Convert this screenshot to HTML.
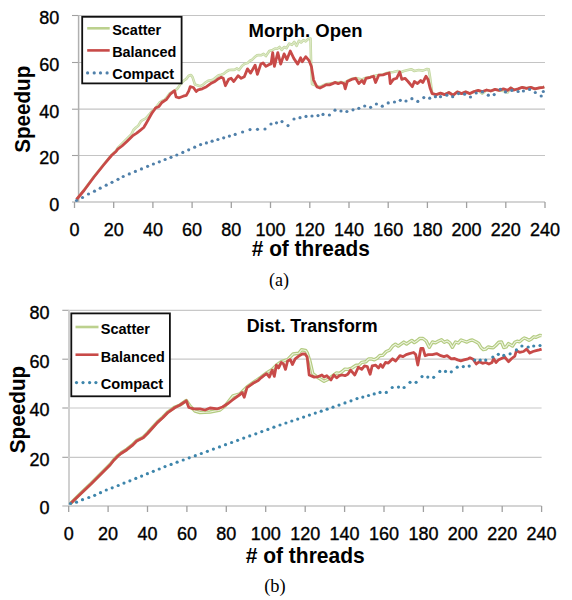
<!DOCTYPE html>
<html><head><meta charset="utf-8"><style>
html,body{margin:0;padding:0;background:#fff;}
svg{display:block;}
text{font-family:"Liberation Sans",sans-serif;fill:#000;}
.n{font-size:18px;stroke:#000;stroke-width:0.35px;}
.lg{font-size:15.3px;font-weight:bold;}
.tt{font-size:18px;font-weight:bold;}
.ax{font-size:21.5px;font-weight:bold;}
.cap{font-family:"Liberation Serif",serif;font-size:18px;}
</style></head><body>
<svg width="572" height="600" viewBox="0 0 572 600">
<rect width="572" height="600" fill="#fff"/>
<line x1="78.6" y1="155.5" x2="545" y2="155.5" stroke="#c4c4c4" stroke-width="1.2"/>
<line x1="72" y1="155.5" x2="78.6" y2="155.5" stroke="#a0a0a0" stroke-width="1.1"/>
<line x1="78.6" y1="109.2" x2="545" y2="109.2" stroke="#c4c4c4" stroke-width="1.2"/>
<line x1="72" y1="109.2" x2="78.6" y2="109.2" stroke="#a0a0a0" stroke-width="1.1"/>
<line x1="78.6" y1="62.5" x2="545" y2="62.5" stroke="#c4c4c4" stroke-width="1.2"/>
<line x1="72" y1="62.5" x2="78.6" y2="62.5" stroke="#a0a0a0" stroke-width="1.1"/>
<line x1="78.6" y1="15.5" x2="545" y2="15.5" stroke="#c4c4c4" stroke-width="1.2"/>
<line x1="72" y1="15.5" x2="78.6" y2="15.5" stroke="#a0a0a0" stroke-width="1.1"/>
<line x1="72" y1="202.0" x2="545" y2="202.0" stroke="#d4d4d4" stroke-width="1.8"/>
<line x1="78.6" y1="15.5" x2="78.6" y2="202.0" stroke="#b0b0b0" stroke-width="1.5"/>
<line x1="74.5" y1="202.0" x2="74.5" y2="208.0" stroke="#a0a0a0" stroke-width="1.3"/>
<line x1="113.7" y1="202.0" x2="113.7" y2="208.0" stroke="#a0a0a0" stroke-width="1.3"/>
<line x1="152.9" y1="202.0" x2="152.9" y2="208.0" stroke="#a0a0a0" stroke-width="1.3"/>
<line x1="192.1" y1="202.0" x2="192.1" y2="208.0" stroke="#a0a0a0" stroke-width="1.3"/>
<line x1="231.3" y1="202.0" x2="231.3" y2="208.0" stroke="#a0a0a0" stroke-width="1.3"/>
<line x1="270.5" y1="202.0" x2="270.5" y2="208.0" stroke="#a0a0a0" stroke-width="1.3"/>
<line x1="309.8" y1="202.0" x2="309.8" y2="208.0" stroke="#a0a0a0" stroke-width="1.3"/>
<line x1="349.0" y1="202.0" x2="349.0" y2="208.0" stroke="#a0a0a0" stroke-width="1.3"/>
<line x1="388.2" y1="202.0" x2="388.2" y2="208.0" stroke="#a0a0a0" stroke-width="1.3"/>
<line x1="427.4" y1="202.0" x2="427.4" y2="208.0" stroke="#a0a0a0" stroke-width="1.3"/>
<line x1="466.6" y1="202.0" x2="466.6" y2="208.0" stroke="#a0a0a0" stroke-width="1.3"/>
<line x1="505.8" y1="202.0" x2="505.8" y2="208.0" stroke="#a0a0a0" stroke-width="1.3"/>
<line x1="545.0" y1="202.0" x2="545.0" y2="208.0" stroke="#a0a0a0" stroke-width="1.3"/>
<text x="59.3" y="210.6" text-anchor="end" class="n">0</text>
<text x="59.3" y="164.1" text-anchor="end" class="n">20</text>
<text x="59.3" y="117.8" text-anchor="end" class="n">40</text>
<text x="59.3" y="71.1" text-anchor="end" class="n">60</text>
<text x="59.3" y="24.1" text-anchor="end" class="n">80</text>
<text x="74.5" y="236" text-anchor="middle" class="n">0</text>
<text x="113.7" y="236" text-anchor="middle" class="n">20</text>
<text x="152.9" y="236" text-anchor="middle" class="n">40</text>
<text x="192.1" y="236" text-anchor="middle" class="n">60</text>
<text x="231.3" y="236" text-anchor="middle" class="n">80</text>
<text x="270.5" y="236" text-anchor="middle" class="n">100</text>
<text x="309.8" y="236" text-anchor="middle" class="n">120</text>
<text x="349.0" y="236" text-anchor="middle" class="n">140</text>
<text x="388.2" y="236" text-anchor="middle" class="n">160</text>
<text x="427.4" y="236" text-anchor="middle" class="n">180</text>
<text x="466.6" y="236" text-anchor="middle" class="n">200</text>
<text x="505.8" y="236" text-anchor="middle" class="n">220</text>
<text x="545.0" y="236" text-anchor="middle" class="n">240</text>
<polyline points="76.5,199.5 84.0,190.0 94.0,176.5 104.0,164.0 111.5,155.0 116.0,151.0 117.8,147.8 129.0,136.6 131.3,134.4 133.7,129.7 136.0,127.5 138.3,125.7 140.7,121.6 143.0,119.8 145.8,118.4 150.0,113.5 152.0,111.0 154.5,109.3 157.0,106.0 159.5,102.7 162.0,101.0 164.5,99.8 167.0,97.0 169.5,93.7 172.0,92.0 174.8,91.0 177.7,88.3 180.8,83.6 184.0,80.5 186.3,78.9 188.7,75.7 191.0,75.0 192.6,77.3 195.0,84.6 200.2,86.2 202.8,85.0 205.5,82.5 208.1,80.8 210.7,80.4 213.3,79.5 216.0,77.3 218.6,75.3 221.2,74.7 223.8,73.8 226.5,71.5 229.1,70.0 231.7,69.9 234.3,69.9 237.0,68.4 239.0,70.0 242.2,65.7 244.8,63.7 247.5,63.1 250.0,60.7 252.2,59.7 254.5,57.3 256.8,55.4 259.1,55.0 261.4,55.2 263.6,53.9 265.9,56.0 269.3,51.0 272.7,49.9 275.0,48.6 277.3,48.8 279.5,47.0 281.8,49.9 284.1,47.0 286.4,48.2 289.2,43.6 292.0,44.8 294.3,41.9 296.6,45.9 298.9,40.8 301.1,42.5 303.4,40.2 305.7,41.4 308.0,39.1 309.7,38.5 310.5,38.5 311.0,60.0 312.0,84.0 317.0,86.0 320.0,87.0 324.0,85.0 326.3,84.0 332.6,83.0 341.0,82.0 344.0,83.0 347.3,81.0 351.5,79.0 355.7,78.0 362.0,79.5 366.0,77.8 370.3,77.0 373.5,76.0 378.7,75.0 383.0,74.5 387.0,73.0 389.2,72.5 393.4,72.0 397.6,71.0 400.8,72.3 404.0,71.0 408.0,70.0 411.2,69.2 414.4,71.0 418.6,70.0 422.8,70.6 427.0,69.0 428.7,69.3 430.0,77.0 432.0,92.0 432.1,93.6 436.3,94.6 440.5,93.1 444.7,94.6 448.9,92.5 453.1,95.2 457.3,91.9 461.5,93.6 465.7,91.9 469.9,93.6 474.1,91.5 478.2,90.4 482.4,93.6 486.6,90.0 490.8,91.0 495.0,89.4 499.2,90.4 503.4,91.0 507.6,92.5 510.8,87.9 513.9,90.0 518.1,88.9 522.3,87.3 526.5,88.3 530.7,87.3 534.9,88.9 539.1,87.9 543.3,87.3 544.3,86.9" fill="none" stroke="#c2d69e" stroke-width="2.6" stroke-linejoin="round"/>
<polyline points="76.5,199.5 84.0,190.0 94.0,176.5 104.0,164.0 111.5,155.0 116.0,151.0 117.8,147.8 129.0,136.6 131.3,134.4 133.7,129.7 136.0,127.5 138.3,125.7 140.7,121.6 143.0,119.8 145.8,118.4 150.0,113.5 152.0,111.0 154.5,109.3 157.0,106.0 159.5,102.7 162.0,101.0 164.5,99.8 167.0,97.0 169.5,93.7 172.0,92.0 174.8,91.0 177.7,88.3 180.8,83.6 184.0,80.5 186.3,78.9 188.7,75.7 191.0,75.0 192.6,77.3 195.0,84.6 200.2,86.2 202.8,85.0 205.5,82.5 208.1,80.8 210.7,80.4 213.3,79.5 216.0,77.3 218.6,75.3 221.2,74.7 223.8,73.8 226.5,71.5 229.1,70.0 231.7,69.9 234.3,69.9 237.0,68.4 239.0,70.0 242.2,65.7 244.8,63.7 247.5,63.1 250.0,60.7 252.2,59.7 254.5,57.3 256.8,55.4 259.1,55.0 261.4,55.2 263.6,53.9 265.9,56.0 269.3,51.0 272.7,49.9 275.0,48.6 277.3,48.8 279.5,47.0 281.8,49.9 284.1,47.0 286.4,48.2 289.2,43.6 292.0,44.8 294.3,41.9 296.6,45.9 298.9,40.8 301.1,42.5 303.4,40.2 305.7,41.4 308.0,39.1 309.7,38.5 310.5,38.5 311.0,60.0 312.0,84.0 317.0,86.0 320.0,87.0 324.0,85.0 326.3,84.0 332.6,83.0 341.0,82.0 344.0,83.0 347.3,81.0 351.5,79.0 355.7,78.0 362.0,79.5 366.0,77.8 370.3,77.0 373.5,76.0 378.7,75.0 383.0,74.5 387.0,73.0 389.2,72.5 393.4,72.0 397.6,71.0 400.8,72.3 404.0,71.0 408.0,70.0 411.2,69.2 414.4,71.0 418.6,70.0 422.8,70.6 427.0,69.0 428.7,69.3 430.0,77.0 432.0,92.0 432.1,93.6 436.3,94.6 440.5,93.1 444.7,94.6 448.9,92.5 453.1,95.2 457.3,91.9 461.5,93.6 465.7,91.9 469.9,93.6 474.1,91.5 478.2,90.4 482.4,93.6 486.6,90.0 490.8,91.0 495.0,89.4 499.2,90.4 503.4,91.0 507.6,92.5 510.8,87.9 513.9,90.0 518.1,88.9 522.3,87.3 526.5,88.3 530.7,87.3 534.9,88.9 539.1,87.9 543.3,87.3 544.3,86.9" fill="none" stroke="#dde9c6" stroke-width="1.1" stroke-linejoin="round"/>
<polyline points="76.5,199.5 84.0,190.5 94.0,177.0 104.0,164.5 111.5,155.5 116.0,151.5 117.8,149.2 122.0,146.0 126.9,141.5 132.5,135.9 136.7,133.1 140.2,130.3 143.7,127.5 145.8,124.0 148.6,119.1 152.1,112.8 154.2,110.0 155.5,108.1 159.0,106.4 161.9,102.5 166.6,99.3 170.6,93.8 174.5,90.7 176.1,97.0 179.2,97.8 183.2,96.2 186.3,95.4 188.7,91.1 190.2,86.7 193.4,87.5 196.2,91.5 198.1,89.9 202.3,88.8 206.5,86.7 210.7,83.6 214.9,81.5 218.1,78.9 221.2,77.3 223.3,78.3 225.4,85.7 228.6,79.4 231.2,78.3 233.8,81.5 238.0,75.7 241.2,78.3 244.3,76.8 247.5,68.9 250.6,73.1 255.1,65.2 257.4,74.3 260.8,64.1 263.1,63.0 265.9,66.4 268.8,64.7 271.0,64.0 272.7,52.7 274.4,66.4 277.8,52.7 280.7,64.1 284.1,53.9 286.9,59.5 290.3,51.0 293.8,58.4 297.7,64.1 300.6,57.8 302.3,61.8 305.7,56.7 309.1,60.7 311.4,66.4 313.6,80.0 317.0,87.0 320.0,88.0 324.0,86.0 326.3,84.6 329.5,84.9 332.6,83.6 335.4,82.4 338.2,83.7 341.0,82.5 344.0,83.6 345.2,88.8 347.3,81.5 351.5,79.4 355.7,78.3 358.8,83.6 362.0,80.4 364.0,83.6 366.0,78.3 370.3,77.3 373.5,76.2 375.6,82.5 378.7,75.2 383.0,74.8 387.0,73.5 389.2,73.0 390.3,83.6 393.4,79.4 396.6,78.3 399.7,72.0 401.8,79.4 405.0,78.3 408.0,81.5 412.3,86.7 414.4,81.5 417.5,83.6 420.7,80.4 422.8,82.5 426.0,76.2 428.0,79.4 430.0,87.8 432.1,93.6 436.3,94.6 440.5,93.1 444.7,94.6 448.9,92.5 453.1,95.2 457.3,91.9 461.5,93.6 465.7,91.9 469.9,93.6 474.1,91.5 478.2,90.4 482.4,91.5 486.6,90.0 490.8,91.0 495.0,89.4 499.2,90.4 503.4,88.9 507.6,90.4 510.8,87.9 513.9,90.0 518.1,88.9 522.3,87.3 526.5,88.3 530.7,87.3 534.9,88.9 539.1,87.9 543.3,87.3 544.3,86.9" fill="none" stroke="#c84a48" stroke-width="2.8" stroke-linejoin="round"/>
<g fill="#5080aa"><circle cx="76.5" cy="200.5" r="1.6"/><circle cx="82.5" cy="197.5" r="1.6"/><circle cx="88.5" cy="194.0" r="1.6"/><circle cx="94.5" cy="191.2" r="1.6"/><circle cx="100.2" cy="188.2" r="1.6"/><circle cx="106.2" cy="185.2" r="1.6"/><circle cx="112.0" cy="182.3" r="1.6"/><circle cx="118.0" cy="179.3" r="1.6"/><circle cx="123.2" cy="176.5" r="1.6"/><circle cx="129.3" cy="173.9" r="1.6"/><circle cx="135.4" cy="171.4" r="1.6"/><circle cx="141.5" cy="168.9" r="1.6"/><circle cx="147.6" cy="166.3" r="1.6"/><circle cx="153.4" cy="164.0" r="1.6"/><circle cx="159.3" cy="161.8" r="1.6"/><circle cx="165.1" cy="159.5" r="1.6"/><circle cx="171.0" cy="157.3" r="1.6"/><circle cx="176.8" cy="155.0" r="1.6"/><circle cx="182.8" cy="152.4" r="1.6"/><circle cx="188.7" cy="149.8" r="1.6"/><circle cx="194.7" cy="147.2" r="1.6"/><circle cx="200.6" cy="144.6" r="1.6"/><circle cx="206.4" cy="142.9" r="1.6"/><circle cx="212.1" cy="141.2" r="1.6"/><circle cx="217.9" cy="139.5" r="1.6"/><circle cx="223.7" cy="137.8" r="1.6"/><circle cx="229.4" cy="136.1" r="1.6"/><circle cx="235.2" cy="134.4" r="1.6"/><circle cx="242.6" cy="132.0" r="1.6"/><circle cx="250.0" cy="129.6" r="1.6"/><circle cx="257.5" cy="129.3" r="1.6"/><circle cx="265.0" cy="129.0" r="1.6"/><circle cx="271.0" cy="124.0" r="1.6"/><circle cx="276.5" cy="122.8" r="1.6"/><circle cx="282.0" cy="121.6" r="1.6"/><circle cx="288.0" cy="125.6" r="1.6"/><circle cx="294.0" cy="119.0" r="1.6"/><circle cx="300.0" cy="117.7" r="1.6"/><circle cx="306.0" cy="116.4" r="1.6"/><circle cx="312.0" cy="116.0" r="1.6"/><circle cx="318.0" cy="115.6" r="1.6"/><circle cx="323.0" cy="114.4" r="1.6"/><circle cx="329.4" cy="115.0" r="1.6"/><circle cx="335.0" cy="110.2" r="1.6"/><circle cx="341.0" cy="111.0" r="1.6"/><circle cx="346.9" cy="111.5" r="1.6"/><circle cx="353.0" cy="109.8" r="1.6"/><circle cx="358.8" cy="108.3" r="1.6"/><circle cx="364.7" cy="106.0" r="1.6"/><circle cx="370.6" cy="107.3" r="1.6"/><circle cx="376.4" cy="104.0" r="1.6"/><circle cx="382.3" cy="106.2" r="1.6"/><circle cx="388.2" cy="102.9" r="1.6"/><circle cx="394.5" cy="102.0" r="1.6"/><circle cx="400.3" cy="100.3" r="1.6"/><circle cx="406.0" cy="101.0" r="1.6"/><circle cx="411.9" cy="98.7" r="1.6"/><circle cx="417.8" cy="101.4" r="1.6"/><circle cx="423.8" cy="97.6" r="1.6"/><circle cx="429.7" cy="98.2" r="1.6"/><circle cx="435.4" cy="96.7" r="1.6"/><circle cx="440.5" cy="96.7" r="1.6"/><circle cx="446.8" cy="95.2" r="1.6"/><circle cx="452.7" cy="96.7" r="1.6"/><circle cx="458.5" cy="93.6" r="1.6"/><circle cx="464.6" cy="94.2" r="1.6"/><circle cx="470.5" cy="97.0" r="1.6"/><circle cx="476.2" cy="93.0" r="1.6"/><circle cx="482.4" cy="91.9" r="1.6"/><circle cx="488.3" cy="95.2" r="1.6"/><circle cx="494.2" cy="94.6" r="1.6"/><circle cx="500.3" cy="89.4" r="1.6"/><circle cx="505.5" cy="91.9" r="1.6"/><circle cx="511.8" cy="90.4" r="1.6"/><circle cx="518.1" cy="91.5" r="1.6"/><circle cx="523.4" cy="91.0" r="1.6"/><circle cx="529.6" cy="89.4" r="1.6"/><circle cx="535.3" cy="92.5" r="1.6"/><circle cx="541.2" cy="96.0" r="1.6"/><circle cx="543.3" cy="91.5" r="1.6"/></g>
<rect x="82.2" y="16.8" width="99.39999999999999" height="66.60000000000001" fill="#fff" stroke="#111" stroke-width="1.8"/>
<line x1="87.2" y1="28.3" x2="109.7" y2="28.3" stroke="#bcd18e" stroke-width="2.6"/>
<line x1="87.2" y1="50.4" x2="109.7" y2="50.4" stroke="#c84a48" stroke-width="2.6"/>
<g fill="#5080aa"><circle cx="87.6" cy="72.9" r="1.6"/><circle cx="94.2" cy="72.9" r="1.6"/><circle cx="100.5" cy="72.9" r="1.6"/><circle cx="107.1" cy="72.9" r="1.6"/></g>
<text x="112.2" y="35" class="lg" textLength="49" lengthAdjust="spacingAndGlyphs">Scatter</text>
<text x="112.2" y="57.1" class="lg" textLength="64" lengthAdjust="spacingAndGlyphs">Balanced</text>
<text x="112.2" y="79.2" class="lg" textLength="62" lengthAdjust="spacingAndGlyphs">Compact</text>
<text x="248.6" y="37" class="tt" textLength="114" lengthAdjust="spacingAndGlyphs">Morph. Open</text>
<text transform="translate(30.2,109.2) rotate(-90)" x="0" y="0" text-anchor="middle" class="ax" textLength="87" lengthAdjust="spacingAndGlyphs">Speedup</text>
<text x="251.8" y="255.8" class="ax" textLength="118" lengthAdjust="spacingAndGlyphs"># of threads</text>
<text x="269" y="286" class="cap" textLength="20" lengthAdjust="spacingAndGlyphs">(a)</text>
<line x1="69.0" y1="457.3" x2="541.6" y2="457.3" stroke="#c8c8c8" stroke-width="1.2"/>
<line x1="62.3" y1="457.3" x2="69.0" y2="457.3" stroke="#a0a0a0" stroke-width="1.1"/>
<line x1="69.0" y1="408.0" x2="541.6" y2="408.0" stroke="#c8c8c8" stroke-width="1.2"/>
<line x1="62.3" y1="408.0" x2="69.0" y2="408.0" stroke="#a0a0a0" stroke-width="1.1"/>
<line x1="69.0" y1="359.2" x2="541.6" y2="359.2" stroke="#c8c8c8" stroke-width="1.2"/>
<line x1="62.3" y1="359.2" x2="69.0" y2="359.2" stroke="#a0a0a0" stroke-width="1.1"/>
<line x1="69.0" y1="310.3" x2="541.6" y2="310.3" stroke="#c8c8c8" stroke-width="1.2"/>
<line x1="62.3" y1="310.3" x2="69.0" y2="310.3" stroke="#a0a0a0" stroke-width="1.1"/>
<line x1="62.3" y1="506.0" x2="541.6" y2="506.0" stroke="#d4d4d4" stroke-width="1.8"/>
<line x1="69.0" y1="310.3" x2="69.0" y2="506.0" stroke="#d0d0d0" stroke-width="2"/>
<line x1="68.7" y1="506.0" x2="68.7" y2="512.0" stroke="#a0a0a0" stroke-width="1.3"/>
<line x1="108.1" y1="506.0" x2="108.1" y2="512.0" stroke="#a0a0a0" stroke-width="1.3"/>
<line x1="147.5" y1="506.0" x2="147.5" y2="512.0" stroke="#a0a0a0" stroke-width="1.3"/>
<line x1="186.9" y1="506.0" x2="186.9" y2="512.0" stroke="#a0a0a0" stroke-width="1.3"/>
<line x1="226.3" y1="506.0" x2="226.3" y2="512.0" stroke="#a0a0a0" stroke-width="1.3"/>
<line x1="265.7" y1="506.0" x2="265.7" y2="512.0" stroke="#a0a0a0" stroke-width="1.3"/>
<line x1="305.2" y1="506.0" x2="305.2" y2="512.0" stroke="#a0a0a0" stroke-width="1.3"/>
<line x1="344.6" y1="506.0" x2="344.6" y2="512.0" stroke="#a0a0a0" stroke-width="1.3"/>
<line x1="384.0" y1="506.0" x2="384.0" y2="512.0" stroke="#a0a0a0" stroke-width="1.3"/>
<line x1="423.4" y1="506.0" x2="423.4" y2="512.0" stroke="#a0a0a0" stroke-width="1.3"/>
<line x1="462.8" y1="506.0" x2="462.8" y2="512.0" stroke="#a0a0a0" stroke-width="1.3"/>
<line x1="502.2" y1="506.0" x2="502.2" y2="512.0" stroke="#a0a0a0" stroke-width="1.3"/>
<line x1="541.6" y1="506.0" x2="541.6" y2="512.0" stroke="#a0a0a0" stroke-width="1.3"/>
<text x="49.5" y="514.4" text-anchor="end" class="n">0</text>
<text x="49.5" y="465.7" text-anchor="end" class="n">20</text>
<text x="49.5" y="416.4" text-anchor="end" class="n">40</text>
<text x="49.5" y="367.6" text-anchor="end" class="n">60</text>
<text x="49.5" y="318.7" text-anchor="end" class="n">80</text>
<text x="68.7" y="540" text-anchor="middle" class="n">0</text>
<text x="108.1" y="540" text-anchor="middle" class="n">20</text>
<text x="147.5" y="540" text-anchor="middle" class="n">40</text>
<text x="186.9" y="540" text-anchor="middle" class="n">60</text>
<text x="226.3" y="540" text-anchor="middle" class="n">80</text>
<text x="265.7" y="540" text-anchor="middle" class="n">100</text>
<text x="305.2" y="540" text-anchor="middle" class="n">120</text>
<text x="344.6" y="540" text-anchor="middle" class="n">140</text>
<text x="384.0" y="540" text-anchor="middle" class="n">160</text>
<text x="423.4" y="540" text-anchor="middle" class="n">180</text>
<text x="462.8" y="540" text-anchor="middle" class="n">200</text>
<text x="502.2" y="540" text-anchor="middle" class="n">220</text>
<text x="541.6" y="540" text-anchor="middle" class="n">240</text>
<polyline points="70.5,503.5 81.0,493.0 91.0,483.5 101.0,473.5 110.0,464.5 114.0,459.5 118.0,455.5 121.0,453.0 126.9,449.2 132.3,444.9 136.7,440.5 143.2,437.3 147.5,433.0 152.9,427.0 157.3,422.1 162.7,417.3 168.1,411.8 175.0,407.0 180.0,405.0 186.3,400.5 190.0,406.0 195.0,411.0 200.0,412.5 210.0,412.0 220.0,410.0 225.0,406.0 233.0,395.9 240.0,393.8 247.0,386.9 254.0,382.0 261.0,377.1 266.6,372.9 272.2,369.4 276.4,365.2 281.3,361.7 287.6,359.6 293.1,354.0 298.7,353.3 301.5,349.8 305.7,350.5 307.1,352.6 309.9,361.0 312.8,373.6 318.4,377.8 324.0,381.3 328.2,379.2 336.6,372.9 339.4,373.5 342.2,371.5 345.0,369.1 347.8,369.4 352.0,368.0 356.2,365.2 358.9,365.1 361.7,362.4 365.9,361.7 368.7,359.0 371.5,358.9 374.3,359.8 377.1,358.2 379.9,355.5 382.7,355.4 386.3,351.5 389.5,350.2 392.6,346.2 395.4,344.2 398.2,346.1 401.0,344.1 403.8,342.1 406.6,344.0 409.4,342.0 411.8,340.4 414.3,342.6 416.7,341.0 419.9,338.4 423.0,338.5 426.2,341.0 429.3,347.3 432.4,342.0 435.5,342.8 438.7,341.0 441.5,339.7 444.3,342.3 447.1,341.0 449.8,342.8 452.4,347.3 455.5,342.0 458.3,343.0 461.1,340.0 463.9,341.0 466.9,342.1 470.0,340.5 472.3,340.0 476.3,342.0 478.6,343.4 481.0,347.5 483.4,349.6 485.7,349.1 488.1,347.0 490.5,347.5 493.2,347.7 496.0,345.2 498.8,342.3 501.5,342.0 503.8,347.5 506.1,346.9 508.5,343.6 512.5,346.0 514.9,342.3 517.2,341.2 519.5,341.8 521.9,339.7 524.2,338.0 526.6,338.9 529.0,340.2 531.4,338.9 533.8,336.8 536.1,337.3 540.0,335.4 541.6,335.7" fill="none" stroke="#b3cb80" stroke-width="3.4" stroke-linejoin="round"/>
<polyline points="70.5,503.5 81.0,493.0 91.0,483.5 101.0,473.5 110.0,464.5 114.0,459.5 118.0,455.5 121.0,453.0 126.9,449.2 132.3,444.9 136.7,440.5 143.2,437.3 147.5,433.0 152.9,427.0 157.3,422.1 162.7,417.3 168.1,411.8 175.0,407.0 180.0,405.0 186.3,400.5 190.0,406.0 195.0,411.0 200.0,412.5 210.0,412.0 220.0,410.0 225.0,406.0 233.0,395.9 240.0,393.8 247.0,386.9 254.0,382.0 261.0,377.1 266.6,372.9 272.2,369.4 276.4,365.2 281.3,361.7 287.6,359.6 293.1,354.0 298.7,353.3 301.5,349.8 305.7,350.5 307.1,352.6 309.9,361.0 312.8,373.6 318.4,377.8 324.0,381.3 328.2,379.2 336.6,372.9 339.4,373.5 342.2,371.5 345.0,369.1 347.8,369.4 352.0,368.0 356.2,365.2 358.9,365.1 361.7,362.4 365.9,361.7 368.7,359.0 371.5,358.9 374.3,359.8 377.1,358.2 379.9,355.5 382.7,355.4 386.3,351.5 389.5,350.2 392.6,346.2 395.4,344.2 398.2,346.1 401.0,344.1 403.8,342.1 406.6,344.0 409.4,342.0 411.8,340.4 414.3,342.6 416.7,341.0 419.9,338.4 423.0,338.5 426.2,341.0 429.3,347.3 432.4,342.0 435.5,342.8 438.7,341.0 441.5,339.7 444.3,342.3 447.1,341.0 449.8,342.8 452.4,347.3 455.5,342.0 458.3,343.0 461.1,340.0 463.9,341.0 466.9,342.1 470.0,340.5 472.3,340.0 476.3,342.0 478.6,343.4 481.0,347.5 483.4,349.6 485.7,349.1 488.1,347.0 490.5,347.5 493.2,347.7 496.0,345.2 498.8,342.3 501.5,342.0 503.8,347.5 506.1,346.9 508.5,343.6 512.5,346.0 514.9,342.3 517.2,341.2 519.5,341.8 521.9,339.7 524.2,338.0 526.6,338.9 529.0,340.2 531.4,338.9 533.8,336.8 536.1,337.3 540.0,335.4 541.6,335.7" fill="none" stroke="#eef4e0" stroke-width="1.1" stroke-linejoin="round"/>
<polyline points="70.5,503.5 81.0,493.5 91.0,484.0 101.0,474.0 110.0,465.0 114.0,460.0 118.0,456.0 121.0,453.5 126.9,449.7 132.3,445.4 136.7,441.0 143.2,437.8 147.5,433.5 152.9,427.5 157.3,422.6 162.7,417.8 168.1,412.3 175.0,407.5 180.0,405.0 186.3,400.8 188.8,407.5 193.8,408.8 200.0,408.8 205.0,410.0 210.0,408.0 217.5,408.8 222.5,407.0 227.5,403.8 232.5,400.0 240.0,394.5 242.1,392.4 244.2,397.3 247.0,387.6 254.0,382.7 258.2,380.6 261.0,377.8 263.8,375.7 266.6,373.6 269.4,377.1 272.2,370.1 274.3,376.4 276.4,365.2 278.5,368.0 281.3,362.4 283.4,363.8 285.5,369.4 287.6,361.0 290.3,359.6 292.4,364.5 295.2,358.9 298.7,356.1 302.2,354.0 305.0,354.0 307.1,356.8 309.2,375.0 314.2,377.1 318.4,376.6 321.9,375.0 324.0,377.1 326.8,375.7 331.0,379.9 333.8,375.0 336.6,377.8 339.4,375.7 342.2,375.0 345.0,375.7 347.8,374.3 350.6,370.1 354.8,375.0 358.3,367.3 361.7,369.4 364.5,365.9 367.3,366.6 370.1,374.3 372.2,365.9 375.7,365.2 378.5,368.0 380.6,364.5 382.7,367.3 385.5,362.4 388.3,363.1 392.6,358.8 395.7,361.0 399.9,355.7 403.0,356.7 406.2,354.6 409.4,353.6 413.6,352.5 415.7,354.6 417.8,365.1 420.9,348.3 423.0,348.3 425.1,355.7 428.2,354.6 432.4,354.6 436.6,353.6 440.8,355.7 444.0,356.6 447.1,355.7 451.3,358.8 454.5,358.5 457.6,359.9 460.8,360.8 463.9,359.9 468.1,358.8 470.0,357.8 473.1,359.3 476.3,364.0 479.4,361.7 482.6,363.3 485.7,362.5 488.9,364.0 492.0,362.5 493.6,358.5 496.0,362.5 498.3,360.1 501.5,358.5 504.6,357.0 508.5,361.7 511.7,358.5 514.8,356.2 516.4,350.7 519.6,352.3 523.5,351.5 526.6,349.1 529.8,353.0 533.0,351.5 536.1,350.7 539.2,349.9 541.6,349.1" fill="none" stroke="#c84a48" stroke-width="2.8" stroke-linejoin="round"/>
<g fill="#3d85ab"><circle cx="70.5" cy="503.5" r="1.6"/><circle cx="76.5" cy="502.2" r="1.6"/><circle cx="82.5" cy="499.7" r="1.6"/><circle cx="88.8" cy="497.5" r="1.6"/><circle cx="94.7" cy="495.3" r="1.6"/><circle cx="100.5" cy="492.7" r="1.6"/><circle cx="106.3" cy="490.0" r="1.6"/><circle cx="112.2" cy="487.8" r="1.6"/><circle cx="118.2" cy="485.5" r="1.6"/><circle cx="124.0" cy="483.1" r="1.6"/><circle cx="129.9" cy="480.8" r="1.6"/><circle cx="135.8" cy="478.4" r="1.6"/><circle cx="141.6" cy="476.1" r="1.6"/><circle cx="147.4" cy="473.7" r="1.6"/><circle cx="153.3" cy="471.3" r="1.6"/><circle cx="159.2" cy="469.0" r="1.6"/><circle cx="165.0" cy="466.6" r="1.6"/><circle cx="171.1" cy="464.4" r="1.6"/><circle cx="177.1" cy="462.2" r="1.6"/><circle cx="183.2" cy="460.0" r="1.6"/><circle cx="189.2" cy="457.8" r="1.6"/><circle cx="195.3" cy="455.7" r="1.6"/><circle cx="201.3" cy="453.5" r="1.6"/><circle cx="207.4" cy="451.3" r="1.6"/><circle cx="213.4" cy="449.1" r="1.6"/><circle cx="219.5" cy="446.9" r="1.6"/><circle cx="225.5" cy="444.7" r="1.6"/><circle cx="231.6" cy="442.5" r="1.6"/><circle cx="237.6" cy="440.3" r="1.6"/><circle cx="243.7" cy="438.1" r="1.6"/><circle cx="249.7" cy="435.9" r="1.6"/><circle cx="255.8" cy="433.8" r="1.6"/><circle cx="261.8" cy="431.6" r="1.6"/><circle cx="267.9" cy="429.4" r="1.6"/><circle cx="273.9" cy="427.2" r="1.6"/><circle cx="280.0" cy="425.0" r="1.6"/><circle cx="285.9" cy="423.0" r="1.6"/><circle cx="291.8" cy="421.0" r="1.6"/><circle cx="297.7" cy="419.1" r="1.6"/><circle cx="303.6" cy="417.1" r="1.6"/><circle cx="309.4" cy="415.1" r="1.6"/><circle cx="315.3" cy="413.1" r="1.6"/><circle cx="321.2" cy="411.2" r="1.6"/><circle cx="327.1" cy="409.2" r="1.6"/><circle cx="333.0" cy="407.2" r="1.6"/><circle cx="339.0" cy="405.1" r="1.6"/><circle cx="345.0" cy="402.9" r="1.6"/><circle cx="351.0" cy="400.8" r="1.6"/><circle cx="357.0" cy="398.6" r="1.6"/><circle cx="362.8" cy="397.1" r="1.6"/><circle cx="368.5" cy="395.5" r="1.6"/><circle cx="374.2" cy="393.9" r="1.6"/><circle cx="380.0" cy="392.4" r="1.6"/><circle cx="386.3" cy="392.4" r="1.6"/><circle cx="392.2" cy="387.5" r="1.6"/><circle cx="398.5" cy="387.1" r="1.6"/><circle cx="404.1" cy="387.5" r="1.6"/><circle cx="410.0" cy="382.3" r="1.6"/><circle cx="416.1" cy="382.3" r="1.6"/><circle cx="422.0" cy="376.6" r="1.6"/><circle cx="427.8" cy="377.1" r="1.6"/><circle cx="433.7" cy="377.3" r="1.6"/><circle cx="439.8" cy="371.4" r="1.6"/><circle cx="445.5" cy="371.4" r="1.6"/><circle cx="451.3" cy="371.8" r="1.6"/><circle cx="457.2" cy="367.2" r="1.6"/><circle cx="463.3" cy="366.6" r="1.6"/><circle cx="469.2" cy="366.1" r="1.6"/><circle cx="474.7" cy="360.1" r="1.6"/><circle cx="480.2" cy="360.1" r="1.6"/><circle cx="485.7" cy="360.1" r="1.6"/><circle cx="492.8" cy="357.0" r="1.6"/><circle cx="498.3" cy="354.3" r="1.6"/><circle cx="503.8" cy="355.4" r="1.6"/><circle cx="510.1" cy="353.8" r="1.6"/><circle cx="516.4" cy="349.9" r="1.6"/><circle cx="521.9" cy="346.0" r="1.6"/><circle cx="528.2" cy="347.0" r="1.6"/><circle cx="533.7" cy="346.0" r="1.6"/><circle cx="540.0" cy="345.5" r="1.6"/></g>
<rect x="71.3" y="313.4" width="98.60000000000001" height="82.90000000000003" fill="#fff" stroke="#111" stroke-width="1.8"/>
<line x1="75.5" y1="327" x2="98.5" y2="327" stroke="#bcd18e" stroke-width="2.6"/>
<line x1="75.5" y1="354.7" x2="98.5" y2="354.7" stroke="#c84a48" stroke-width="2.6"/>
<g fill="#3d85ab"><circle cx="76.5" cy="382.6" r="1.6"/><circle cx="83.0" cy="382.6" r="1.6"/><circle cx="89.6" cy="382.6" r="1.6"/><circle cx="95.9" cy="382.6" r="1.6"/></g>
<text x="100.7" y="334" class="lg" textLength="49.3" lengthAdjust="spacingAndGlyphs">Scatter</text>
<text x="100.7" y="361.6" class="lg" textLength="64" lengthAdjust="spacingAndGlyphs">Balanced</text>
<text x="100.7" y="389" class="lg" textLength="62.5" lengthAdjust="spacingAndGlyphs">Compact</text>
<text x="246.7" y="332.1" class="tt" textLength="131" lengthAdjust="spacingAndGlyphs">Dist. Transform</text>
<text transform="translate(25.2,409.5) rotate(-90)" x="0" y="0" text-anchor="middle" class="ax" textLength="87.5" lengthAdjust="spacingAndGlyphs">Speedup</text>
<text x="245.7" y="563.4" class="ax" textLength="119" lengthAdjust="spacingAndGlyphs"># of threads</text>
<text x="264.2" y="591.5" class="cap" textLength="21.5" lengthAdjust="spacingAndGlyphs">(b)</text>
</svg>
</body></html>
